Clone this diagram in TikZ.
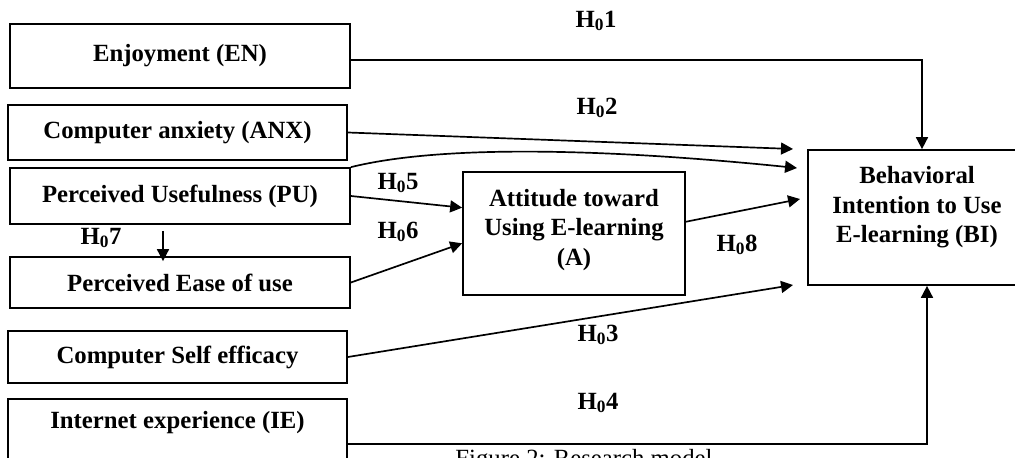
\documentclass[tikz,border=0pt]{standalone}
\usepackage{fontspec}
\setmainfont{Liberation Serif}
\usetikzlibrary{arrows.meta, calc}
\newcommand{\figfont}{\fontsize{17.6}{21}\selectfont}
\newcommand{\hyp}[1]{H\textsubscript{0}#1}
\newcommand{\lift}[1]{\rule[-#1]{0pt}{#1}}
\tikzset{
  var box/.style={rectangle, draw, line width=1.2pt, inner sep=0pt, align=center, font=\figfont\bfseries},
  hypo/.style={font=\figfont\bfseries},
  link/.style={line width=1.2pt, -{Triangle[length=8.5pt, width=8.5pt]}}
}

\begin{document}
\begin{tikzpicture}[x=0.025cm, y=-0.025cm]
  \useasboundingbox (0,0) rectangle (1015,458);

  % predictors on the left
  \node[var box, minimum width=8.5cm, minimum height=1.6cm] (en) at (180,56) {Enjoyment (EN)};
  \node[var box, minimum width=8.475cm, minimum height=1.375cm] (anx) at (177.5,132.5) {Computer anxiety (ANX)};
  \node[var box, minimum width=8.5cm, minimum height=1.4cm] (pu) at (180,196) {Perceived Usefulness (PU)};
  \node[var box, minimum width=8.5cm, minimum height=1.275cm] (peu) at (180,282.5) {Perceived Ease of use};
  \node[var box, minimum width=8.475cm, minimum height=1.3cm] (cse) at (177.5,357) {Computer Self efficacy};
  \node[var box, minimum width=8.475cm, anchor=north, text height=0.75cm, text depth=1.5cm] (ie) at (177.5,398) {Internet experience (IE)};

  % mediator and outcome
  \node[var box, minimum width=5.55cm, minimum height=3.075cm] (a) at (574,233.5) {Attitude toward\\Using E-learning\\(A)\lift{9pt}};
  \node[var box, minimum width=5.45cm, minimum height=3.375cm] (bi) at (917,217.5) {Behavioral\\Intention to Use\\E-learning (BI)\lift{18pt}};

  % arrow ends short of BI
  \coordinate (tip2) at (793,149);
  \coordinate (tipc) at (797,168);
  \coordinate (tip8) at (800,199);
  \coordinate (tip3) at (793,285);

  % hypotheses
  \node[hypo] (h1) at (596,21) {\hyp{1}};
  \node[hypo] (h2) at (597,108) {\hyp{2}};
  \node[hypo] (h3) at (598,335) {\hyp{3}};
  \node[hypo] (h4) at (598,403) {\hyp{4}};
  \node[hypo] (h5) at (398,183) {\hyp{5}};
  \node[hypo] (h6) at (398,232) {\hyp{6}};
  \node[hypo] (h7) at (101,238) {\hyp{7}};
  \node[hypo] (h8) at (737,245) {\hyp{8}};

  % paths
  \draw[link] ([yshift=-0.1cm]en.east) -| ([xshift=0.125cm]bi.north);
  \draw[link] (anx.east) -- (tip2);
  \draw[link] (pu.north east) .. controls (440,145) and (600,148) .. (tipc);
  \draw[link] (pu.east) -- (a.167);
  \draw[link] (peu.east) -- (a.185);
  \draw[link] ($(pu.south)+(-17,6)$) -- ($(peu.north)+(-17,5)$);
  \draw[link] (a.6) -- (tip8);
  \draw[link] (cse.east) -- (tip3);
  \draw[link] (ie.east) -| ([xshift=0.25cm]bi.south);

  \node[font=\figfont, anchor=base] (cap) at (584,466) {Figure 2: Research model};
\end{tikzpicture}
\end{document}
